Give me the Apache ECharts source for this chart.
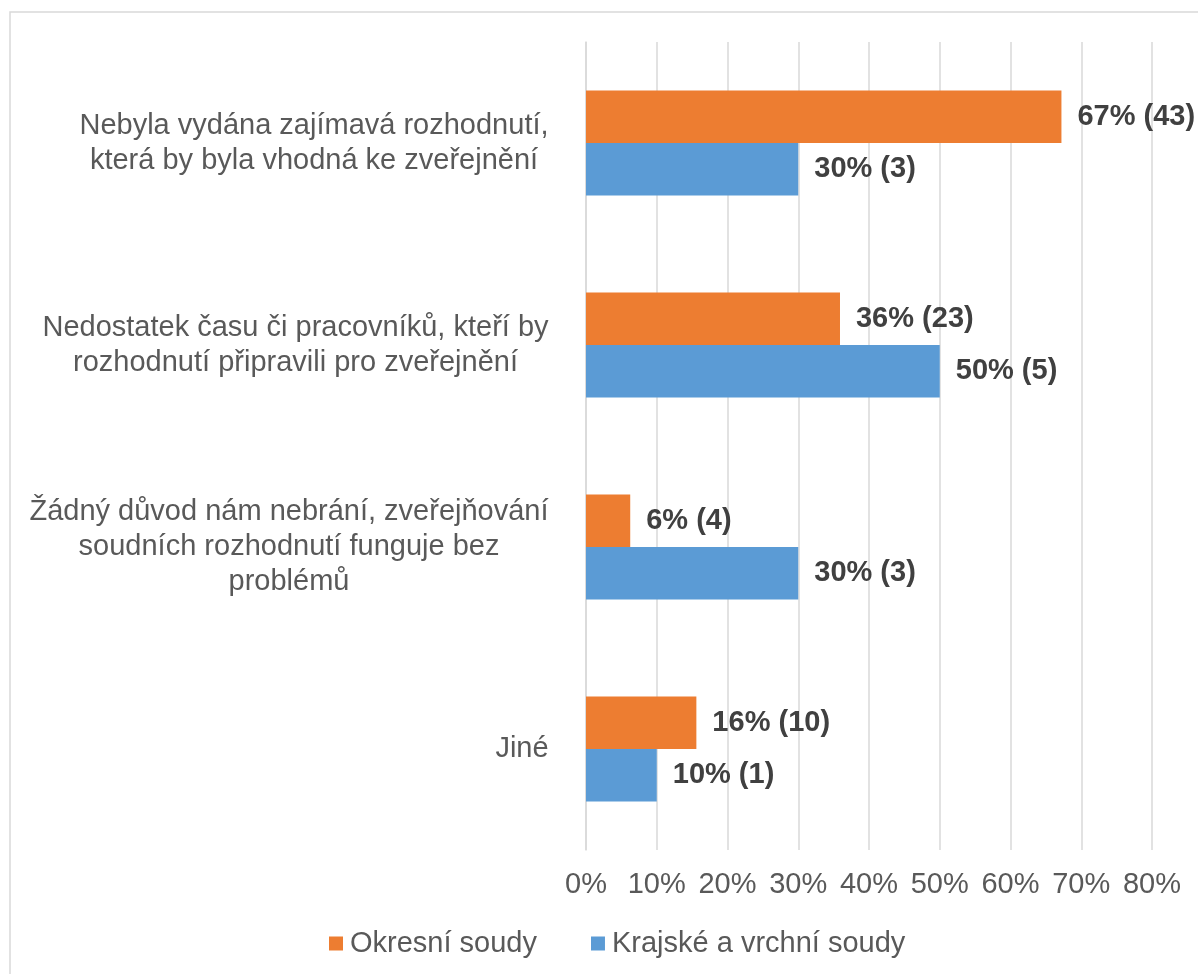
<!DOCTYPE html>
<html>
<head>
<meta charset="utf-8">
<script src="https://cdn.jsdelivr.net/npm/echarts@6/dist/echarts.min.js"></script>
<style>
html,body{margin:0;padding:0;background:#fff;}
#chart{width:1198px;height:974px;}
</style>
</head>
<body>
<div id="chart"></div>
<script>
// ---- data ----
const categories = [
  "Nebyla vydána zajímavá rozhodnutí,\nkterá by byla vhodná ke zveřejnění",
  "Nedostatek času či pracovníků, kteří by\nrozhodnutí připravili pro zveřejnění",
  "Žádný důvod nám nebrání, zveřejňování\nsoudních rozhodnutí funguje bez\nproblémů",
  "Jiné"
];
const seriesNames = ["Okresní soudy", "Krajské a vrchní soudy"];
const okresniPct = [67.2, 35.9, 6.25, 15.6];
const okresniCount = [43, 23, 4, 10];
const krajskePct = [30, 50, 30, 10];
const krajskeCount = [3, 5, 3, 1];
const xTickMax = 80;
const xTickStep = 10;

// ---- styling ----
const FONT = '"Liberation Sans", Arial, sans-serif';
const TEXT = '#595959';
const GRID = '#D9D9D9';
const FS = 29;

// measure widest line of each category label so lines centre in a right-aligned block
const cv = document.createElement('canvas');
const ctx = cv.getContext('2d');
ctx.font = FS + 'px "Liberation Sans"';
const rich = {};
categories.forEach((c, i) => {
  const w = Math.max(...c.split('\n').map(l => ctx.measureText(l).width));
  rich['c' + i] = {width: Math.ceil(w) + 2, align: 'center', fontSize: FS, lineHeight: 35, color: TEXT, fontFamily: FONT};
});

function labelFor(pcts, counts) {
  return p => Math.round(pcts[p.dataIndex]) + '% (' + counts[p.dataIndex] + ')';
}

const chart = echarts.init(document.getElementById('chart'));
chart.setOption({
  animation: false,
  backgroundColor: '#fff',
  textStyle: {fontFamily: FONT},
  graphic: [{
    type: 'rect', silent: true,
    shape: {x: 10, y: 12, width: 1400, height: 1200},
    style: {fill: 'none', stroke: GRID, lineWidth: 1.5}
  }],
  grid: {left: 586, right: 46, top: 42, bottom: 124, containLabel: false},
  legend: {
    data: seriesNames,
    top: 924, left: 324,
    icon: 'rect', itemWidth: 14, itemHeight: 14, itemGap: 54,
    textStyle: {fontSize: FS, color: TEXT, fontFamily: FONT, padding: [0, 0, 0, 2]}
  },
  xAxis: {
    type: 'value', min: 0, max: xTickMax, interval: xTickStep,
    axisLine: {show: false}, axisTick: {show: false},
    splitLine: {show: true, lineStyle: {color: GRID, width: 1.5}},
    axisLabel: {formatter: '{value}%', fontSize: FS, color: TEXT, margin: 20, fontFamily: FONT}
  },
  yAxis: {
    type: 'category', inverse: true, data: categories,
    axisLine: {show: true, lineStyle: {color: GRID, width: 1.5}},
    axisTick: {show: false},
    axisLabel: {
      margin: 36, align: 'right',
      formatter: (v, i) => v.split('\n').map(l => '{c' + i + '|' + l + '}').join('\n'),
      rich: rich
    }
  },
  series: [
    {
      name: seriesNames[0], type: 'bar', data: okresniPct,
      barGap: '0%', barCategoryGap: '48%',
      itemStyle: {color: '#ED7D31'},
      label: {show: true, position: 'right', distance: 16, formatter: labelFor(okresniPct, okresniCount),
        fontSize: FS, fontWeight: 'bold', color: '#404040', fontFamily: FONT}
    },
    {
      name: seriesNames[1], type: 'bar', data: krajskePct,
      barGap: '0%', barCategoryGap: '48%',
      itemStyle: {color: '#5B9BD5'},
      label: {show: true, position: 'right', distance: 16, formatter: labelFor(krajskePct, krajskeCount),
        fontSize: FS, fontWeight: 'bold', color: '#404040', fontFamily: FONT}
    }
  ]
});
</script>
</body>
</html>
